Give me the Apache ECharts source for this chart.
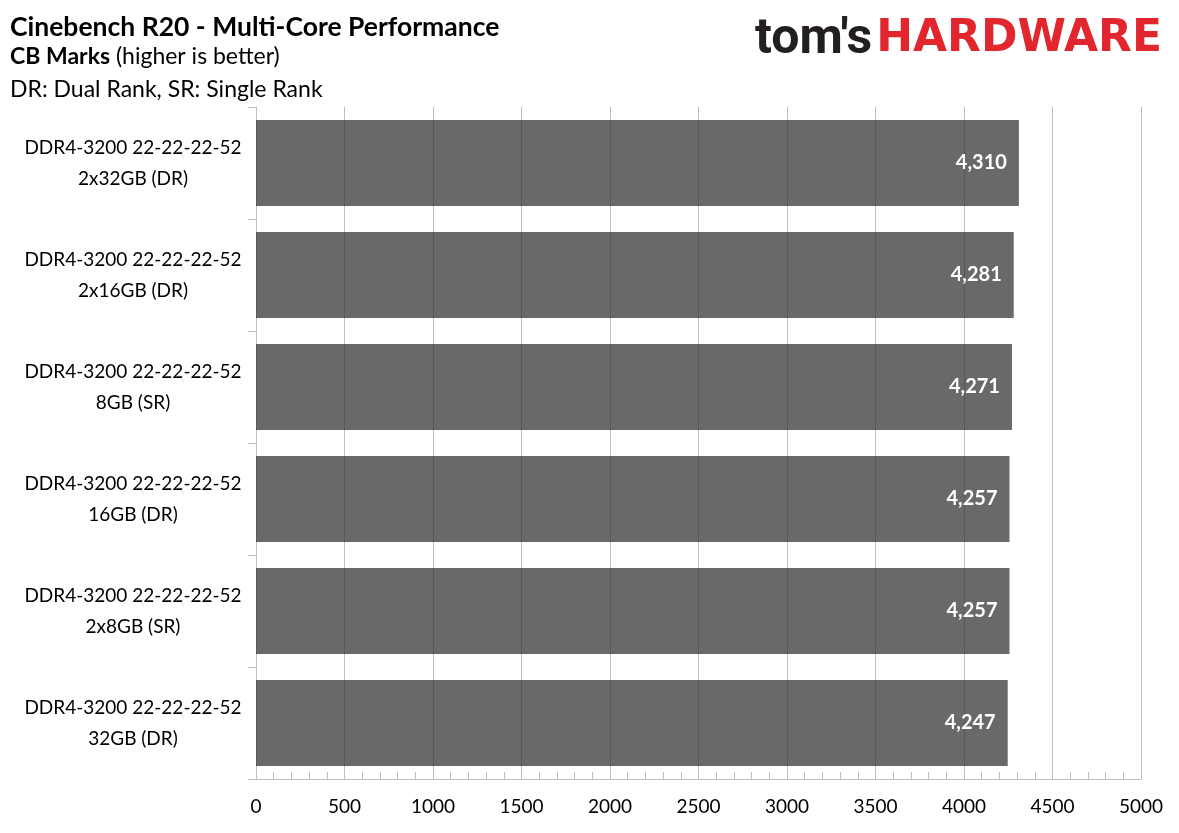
<!DOCTYPE html>
<html>
<head>
<meta charset="utf-8">
<script src="https://cdn.jsdelivr.net/npm/echarts@6/dist/echarts.min.js"></script>
<style>
  html, body { margin: 0; padding: 0; background: #fff; }
  #chart { width: 1179px; height: 833px; }
</style>
</head>
<body>
<div id="chart"></div>
<script>
// memory configs, top to bottom as in the chart
var configs = [
  'DDR4-3200 22-22-22-52\n2x32GB (DR)',
  'DDR4-3200 22-22-22-52\n2x16GB (DR)',
  'DDR4-3200 22-22-22-52\n8GB (SR)',
  'DDR4-3200 22-22-22-52\n16GB (DR)',
  'DDR4-3200 22-22-22-52\n2x8GB (SR)',
  'DDR4-3200 22-22-22-52\n32GB (DR)'
];
var marks = [4310, 4281, 4271, 4257, 4257, 4247];
var xTicks = [0, 500, 1000, 1500, 2000, 2500, 3000, 3500, 4000, 4500, 5000];

var font = 'Lato';
var chart = echarts.init(document.getElementById('chart'));

var option = {
  backgroundColor: '#fff',
  animation: false,
  title: {
    left: 5,
    top: 9,
    text: 'Cinebench R20 - Multi-Core Performance',
    textStyle: { fontFamily: font, fontSize: 26.5, fontWeight: 'bold', color: '#000' },
    subtext: '{b|CB Marks} (higher is better)\nDR: Dual Rank, SR: Single Rank',
    itemGap: -1,
    subtextStyle: {
      fontFamily: font, fontSize: 23, color: '#000', lineHeight: 33,
      rich: { b: { fontFamily: font, fontSize: 23, fontWeight: 'bold', color: '#000', lineHeight: 33 } }
    }
  },
  graphic: [{
    type: 'text',
    right: 17,
    top: 15,
    style: {
      text: "{t|tom's}{h|HARDWARE}",
      rich: {
        t: { fontFamily: 'Roboto', fontWeight: 'bold', fontSize: 50, fill: '#231f20', padding: [0, 4, 0, 0] },
        h: { fontFamily: 'DejaVu Sans', fontWeight: 'bold', fontSize: 44, fill: '#e1262d' }
      }
    }
  }],
  grid: { left: 256, right: 38, top: 107, bottom: 54 },
  xAxis: {
    type: 'value',
    min: 0,
    max: 5000,
    interval: 500,
    axisLine: { show: true, lineStyle: { color: '#bfbfbf', width: 1 } },
    axisTick: { show: true, inside: true, length: 10, lineStyle: { color: '#bfbfbf' } },
    minorTick: { show: true, splitNumber: 5, length: 7, lineStyle: { color: '#bfbfbf' } },
    splitLine: { show: true, lineStyle: { color: '#bfbfbf', width: 1 } },
    axisLabel: {
      margin: 18,
      fontFamily: font, fontSize: 19, color: '#000',
      formatter: function (v) { return xTicks.indexOf(v) >= 0 ? String(v) : ''; }
    }
  },
  yAxis: {
    type: 'category',
    inverse: true,
    data: configs,
    axisLine: { show: true, lineStyle: { color: '#bfbfbf', width: 1 } },
    axisTick: { show: true, length: 8, lineStyle: { color: '#bfbfbf' } },
    axisLabel: {
      margin: 123,
      align: 'center',
      fontFamily: font, fontSize: 19, color: '#000', lineHeight: 31
    }
  },
  series: [{
    type: 'bar',
    data: marks,
    barCategoryGap: '23%',
    itemStyle: { color: 'rgba(53,49,51,0.734)' },
    label: {
      show: true,
      position: 'insideRight',
      distance: 12,
      fontFamily: font, fontSize: 20, fontWeight: 'bold', color: '#fff',
      formatter: function (p) { return p.value.toLocaleString('en-US'); }
    }
  }]
};

chart.setOption(option);
</script>
</body>
</html>
